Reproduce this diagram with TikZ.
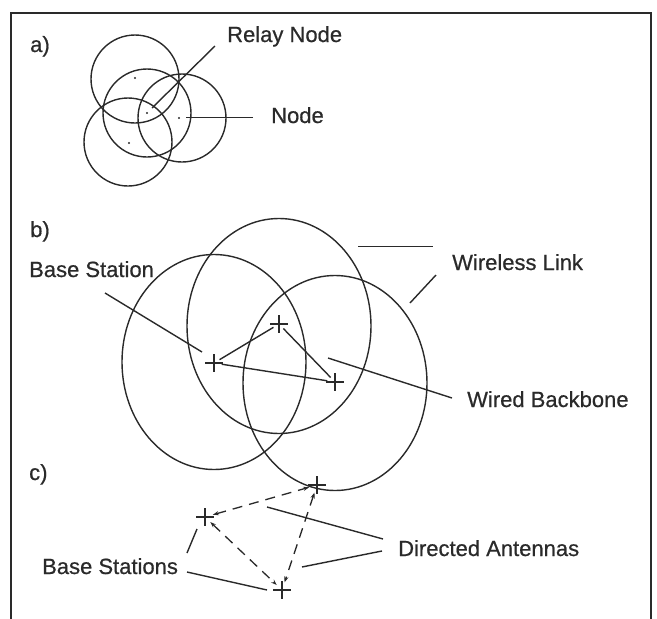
\documentclass[tikz,border=0pt]{standalone}
\usepackage{fontspec}
\setmainfont[FakeBold=0.6]{Liberation Sans}
\usetikzlibrary{shapes.geometric,shapes.misc,arrows.meta}
\definecolor{ink}{HTML}{2A2A2A}
\begin{document}
\begin{tikzpicture}[x=1pt,y=-1pt,
  every node/.style={text=ink},
  lab/.style={anchor=base west,inner sep=0pt,font=\fontsize{22}{26}\selectfont},
  rng/.style={draw=ink,line width=1.4pt,circle,minimum size=88pt,inner sep=0pt},
  cell/.style={draw=ink,line width=1.4pt,ellipse,minimum width=184pt,minimum height=215pt,inner sep=0pt},
  pt/.style={fill=ink,circle,minimum size=2.4pt,inner sep=0pt},
  bs/.style={draw=ink,line width=1.2pt,cross out,rotate=45,minimum size=6.5pt,inner sep=0pt,outer sep=3pt},
  ptr/.style={draw=ink,line width=1.4pt},
  wire/.style={draw=ink,line width=1.4pt},
  dlink/.style={draw=ink,line width=1.3pt,dash pattern=on 10pt off 7pt,
    {Stealth[length=6pt,width=4.2pt]}-{Stealth[length=6pt,width=4.2pt]},shorten <=1pt,shorten >=1pt}
]
\useasboundingbox (0,0) rectangle (657,619);
% frame
\draw[ink,line width=1.6pt] (11,619) -- (11,13) -- (651,13) -- (651,619);

% ---------- a)
\node[lab] (la) at (30,52) {a)};
\node[rng] (a1) at (135,79) {};
\node[rng] (a2) at (147,113) {};
\node[rng] (a3) at (182,118) {};
\node[rng] (a4) at (128,142) {};
\node[pt] (d1) at (135,78) {};
\node[pt] (d2) at (147,113) {};
\node[pt] (d3) at (179,118) {};
\node[pt] (d4) at (129,143) {};
\node[lab] (relay) at (227,42) {Relay Node};
\node[lab] (node) at (271,123) {Node};
\coordinate (r1) at (215,46);
\coordinate (r0) at (152,108);
\coordinate (n1) at (253,117.5);
\coordinate (n0) at (186,117.5);
\draw[ptr] (r1) -- (r0);
\draw[ptr] (n1) -- (n0);

% ---------- b)
\node[lab] (lb) at (30,237) {b)};
\node[cell] (e1) at (214,362) {};
\node[cell] (e2) at (279,326) {};
\node[cell] (e3) at (335,383) {};
\node[bs] (b1) at (214,363) {};
\node[bs] (b2) at (279,324) {};
\node[bs] (b3) at (335,382) {};
\draw[wire] (b1) -- (b2);
\draw[wire] (b2) -- (b3);
\draw[wire] (b1) -- (b3);
\node[lab] (bst) at (29,277) {Base Station};
\node[lab] (wl) at (452,270) {Wireless Link};
\node[lab] (wb) at (467,407) {Wired Backbone};
\coordinate (p1a) at (105,293);
\coordinate (p1b) at (202,352);
\coordinate (w1a) at (358,246.5);
\coordinate (w1b) at (433,246.5);
\coordinate (w2a) at (410,303);
\coordinate (w2b) at (436,275);
\coordinate (k1a) at (328,358);
\coordinate (k1b) at (452,398);
\draw[ptr] (p1a) -- (p1b);
\draw[ptr] (w1a) -- (w1b);
\draw[ptr] (w2a) -- (w2b);
\draw[ptr] (k1a) -- (k1b);

% ---------- c)
\node[lab] (lc) at (29,480) {c)};
\node[bs] (c1) at (205,517) {};
\node[bs] (c2) at (317,485) {};
\node[bs] (c3) at (282,590) {};
\coordinate (s1a) at (187,553);
\coordinate (s1b) at (197,529);
\coordinate (s2a) at (187,572);
\coordinate (s2b) at (267,590);
\coordinate (t1a) at (383,539);
\coordinate (t1b) at (267,507);
\coordinate (t2a) at (382,551);
\coordinate (t2b) at (302,567);
\draw[ptr] (s1a) -- (s1b);
\draw[ptr] (s2a) -- (s2b);
\draw[ptr] (t1a) -- (t1b);
\draw[ptr] (t2a) -- (t2b);
\draw[dlink] (c1) -- (c2);
\draw[dlink] (c1) -- (c3);
\draw[dlink] (c2) -- (c3);
\node[lab] (bss) at (42,574) {Base Stations};
\node[lab] (da) at (398,556) {Directed Antennas};
\end{tikzpicture}
\end{document}
